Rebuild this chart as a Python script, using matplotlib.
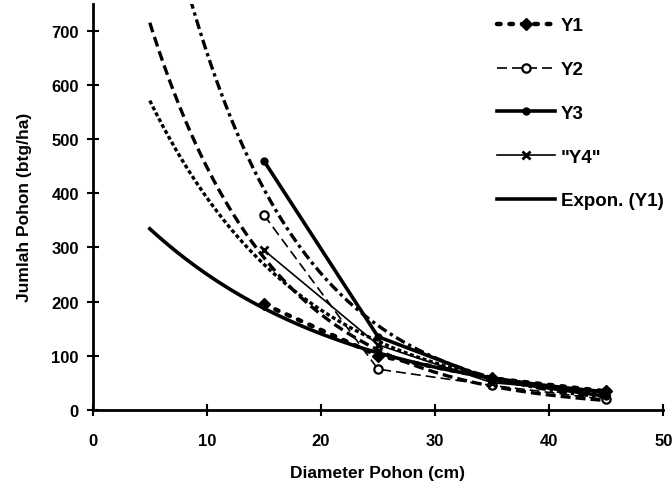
import numpy as np
import matplotlib
matplotlib.use("Agg")
import matplotlib.pyplot as plt

plt.rcParams["font.family"] = ["Liberation Sans", "DejaVu Sans"]
plt.rcParams["font.weight"] = "bold"

diameter = [15, 25, 35, 45]
y1 = [195, 100, 58, 34]
y2 = [360, 75, 45, 19]
y3 = [460, 135, 55, 25]
y4 = [295, 120, 50, 32]

trend_start, trend_end = 5, 45

def expon_fit(x, y):
    # excel style exponential trendline: fit ln(y) = ln(a) + b*x
    b, ln_a = np.polyfit(x, np.log(y), 1)
    xs = np.linspace(trend_start, trend_end, 200)
    return xs, np.exp(ln_a) * np.exp(b * xs)

fig = plt.figure(figsize=(6.72, 4.89), dpi=100)
ax = fig.add_axes([0.138, 0.160, 0.849, 0.830])

k = "black"

# trendlines
xs, ys = expon_fit(diameter, y2)
ax.plot(xs, ys, color=k, lw=2.4, linestyle=(0, (3, 1.5)))
xs, ys = expon_fit(diameter, y3)
ax.plot(xs, ys, color=k, lw=2.4, linestyle=(0, (3, 1.2, 1, 1.2)))
xs, ys = expon_fit(diameter, y4)
ax.plot(xs, ys, color=k, lw=2.4, linestyle=(0, (1.2, 0.8)))

# data series
ax.plot(diameter, y1, color=k, lw=3.2, linestyle=(0, (0.8, 2)), dash_capstyle="round",
        marker="D", markersize=6, label="Y1")
ax.plot(diameter, y2, color=k, lw=1.2, linestyle=(0, (6, 3)),
        marker="o", markersize=6, markerfacecolor="white", markeredgewidth=1.6, label="Y2")
ax.plot(diameter, y3, color=k, lw=2.6, marker="o", markersize=5, label="Y3")
ax.plot(diameter, y4, color=k, lw=1.2, marker="x", markersize=6, markeredgewidth=2,
        label='"Y4"')

xs, ys = expon_fit(diameter, y1)
ax.plot(xs, ys, color=k, lw=2.6, label="Expon. (Y1)")

ax.set_xlim(0, 50)
ax.set_ylim(0, 750)
ax.set_xticks(range(0, 51, 10))
ax.set_yticks(range(0, 701, 100))

for side in ["top", "right"]:
    ax.spines[side].set_visible(False)
for side in ["left", "bottom"]:
    ax.spines[side].set_linewidth(2)
ax.tick_params(direction="inout", length=8, width=1.5, labelsize=12, pad=13)
ax.tick_params(axis="y", pad=6)

ax.set_xlabel("Diameter Pohon (cm)", fontsize=12.5, fontweight="bold", labelpad=12)
ax.set_ylabel("Jumlah Pohon (btg/ha)", fontsize=12.5, fontweight="bold", labelpad=14)

ax.legend(loc="upper left", bbox_to_anchor=(0.709, 0.967), frameon=False, fontsize=13.5,
          handlelength=3.1, labelspacing=1.42, handletextpad=0.3,
          borderpad=0, borderaxespad=0)

fig.savefig("out.png", dpi=100)
